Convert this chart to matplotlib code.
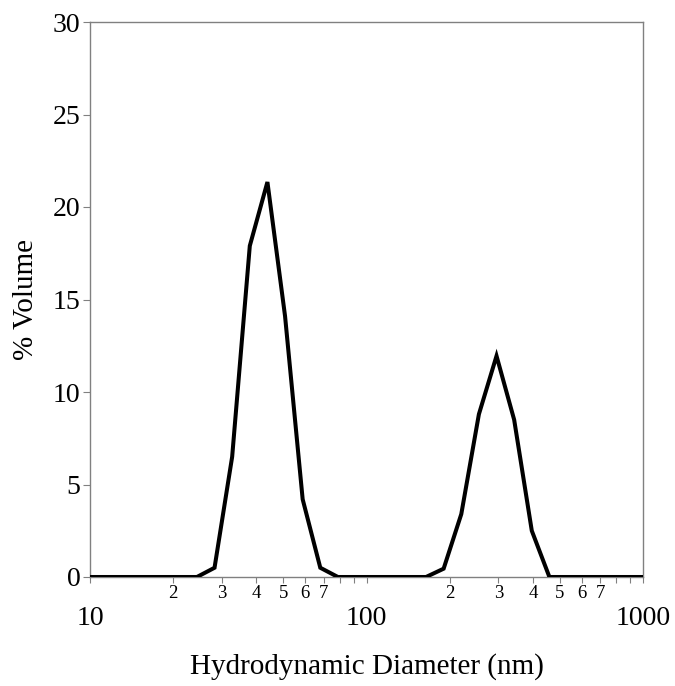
import matplotlib
matplotlib.use("Agg")
import matplotlib.pyplot as plt
from matplotlib.ticker import FixedLocator, FixedFormatter

# Data (Zetasizer size bins, nm) and % volume
diameter_nm = [8.721, 10.1, 11.7, 13.54, 15.69, 18.17, 21.04, 24.36, 28.21, 32.67,
               37.84, 43.82, 50.75, 58.77, 68.06, 78.82, 91.28, 105.7, 122.4, 141.8,
               164.2, 190.1, 220.2, 255.0, 295.3, 342.0, 396.1, 458.7, 531.2, 615.1,
               712.4, 825.0, 955.4, 1106.0]
volume_pct = [0, 0, 0, 0, 0, 0, 0, 0, 0.5, 6.5,
              17.9, 21.35, 14.1, 4.2, 0.5, 0, 0, 0, 0, 0,
              0, 0.45, 3.4, 8.8, 11.95, 8.5, 2.5, 0, 0, 0,
              0, 0, 0, 0]

major_ticks = [10, 100, 1000]
major_labels = ["10", "100", "1000"]
minor_ticks = [20, 30, 40, 50, 60, 70, 80, 90, 200, 300, 400, 500, 600, 700, 800, 900]
minor_labels = ["2", "3", "4", "5", "6", "7", "", "", "2", "3", "4", "5", "6", "7", "", ""]
y_ticks = [0, 5, 10, 15, 20, 25, 30]

plt.rcParams['font.family'] = ['Liberation Serif', 'DejaVu Serif']

fig = plt.figure(figsize=(6.75, 6.86), dpi=100)
ax = fig.add_axes([90/675, 1-577/686, (643-90)/675, (577-22)/686])

ax.plot(diameter_nm, volume_pct, color='black', lw=2.9, solid_joinstyle='miter', zorder=3)

ax.set_xscale('log')
ax.set_xlim(10, 1000)
ax.set_ylim(0, 30)

ax.xaxis.set_major_locator(FixedLocator(major_ticks))
ax.xaxis.set_major_formatter(FixedFormatter(major_labels))
ax.xaxis.set_minor_locator(FixedLocator(minor_ticks))
ax.xaxis.set_minor_formatter(FixedFormatter(minor_labels))
ax.set_yticks(y_ticks)

spine_col = '#808080'
for s in ax.spines.values():
    s.set_color(spine_col)
    s.set_linewidth(1.0)

ax.tick_params(axis='x', which='major', direction='out', length=4, width=0.8,
               color=spine_col, labelsize=20, pad=17)
ax.tick_params(axis='x', which='minor', direction='out', length=4, width=0.8,
               color=spine_col, labelsize=13.5, pad=2)
ax.tick_params(axis='y', which='major', direction='out', length=5, width=0.8,
               color=spine_col, labelsize=20, pad=2)

ax.set_xlabel("Hydrodynamic Diameter (nm)", fontsize=21, labelpad=16)
ax.set_ylabel("% Volume", fontsize=21, labelpad=10)

fig.savefig("out.png", dpi=100)
